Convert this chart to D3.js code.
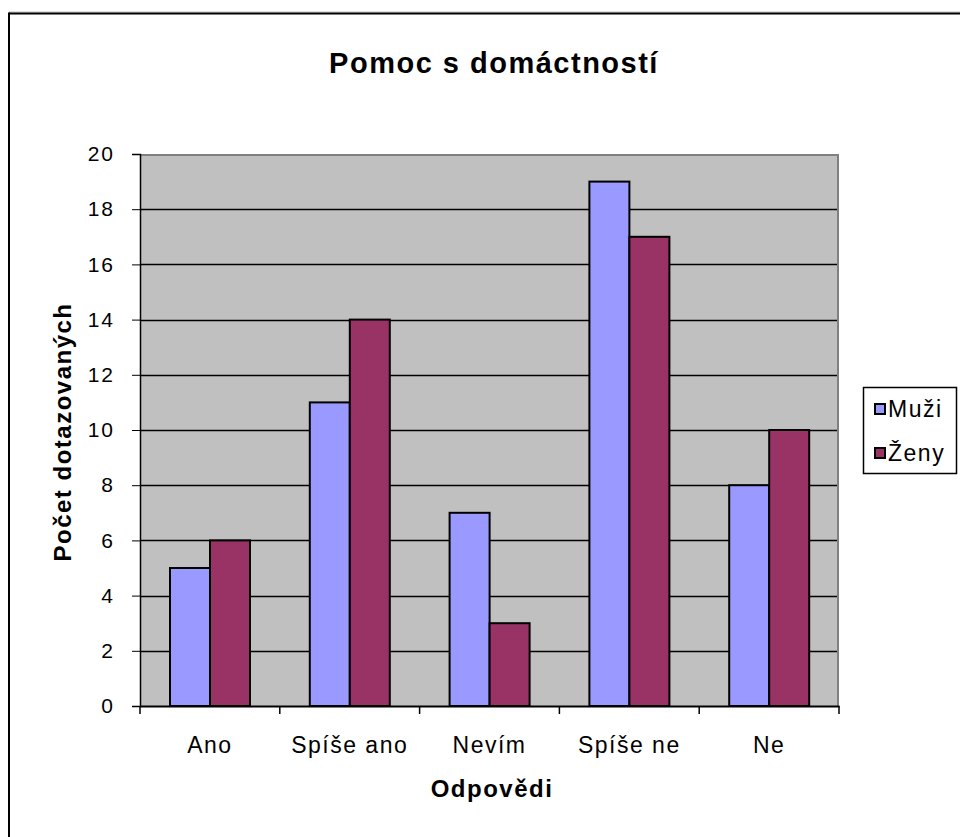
<!DOCTYPE html>
<html lang="cs">
<head>
<meta charset="utf-8">
<title>Pomoc s domáctností</title>
<script src="https://cdn.jsdelivr.net/npm/d3@7"></script>
<style>
  body { margin: 0; background: #fff; }
  text { font-family: Arial, "Liberation Sans", sans-serif; fill: #000; }
</style>
</head>
<body>
<script>
// data
var categories = ["Ano", "Spíše ano", "Nevím", "Spíše ne", "Ne"];
var seriesNames = ["Muži", "Ženy"];
var muzi = [5, 11, 7, 19, 8];
var zeny = [6, 14, 3, 17, 10];
var yTicks = [0, 2, 4, 6, 8, 10, 12, 14, 16, 18, 20];
var colors = ["#9999FF", "#993366"];

var width = 960, height = 837;
var plot = {left: 140, top: 154, right: 839, bottom: 706};

var svg = d3.select("body").append("svg")
    .attr("width", width)
    .attr("height", height);

// chart area border
svg.append("line").attr("x1", 9).attr("x2", width).attr("y1", 12).attr("y2", 12)
    .attr("stroke", "#bbb").attr("stroke-width", 1);
svg.append("line").attr("x1", 9).attr("x2", width).attr("y1", 13.5).attr("y2", 13.5)
    .attr("stroke", "#000").attr("stroke-width", 2);
svg.append("line").attr("x1", 9).attr("x2", 9).attr("y1", 12.5).attr("y2", height)
    .attr("stroke", "#000").attr("stroke-width", 2);

var x0 = d3.scaleBand().domain(categories).range([plot.left, plot.right]).paddingInner(0).paddingOuter(0);
var x1 = d3.scaleBand().domain(seriesNames).range([0, 80]);
var y = d3.scaleLinear().domain([0, 20]).range([plot.bottom, plot.top]);

// plot background
svg.append("rect")
    .attr("x", plot.left).attr("y", plot.top)
    .attr("width", plot.right - plot.left).attr("height", plot.bottom - plot.top)
    .attr("fill", "#C0C0C0");

// gridlines
svg.append("g").selectAll("line")
    .data(yTicks.filter(function(d) { return d > 0 && d < 20; }))
    .enter().append("line")
    .attr("x1", plot.left).attr("x2", plot.right)
    .attr("y1", function(d) { return Math.round(y(d)) + 0.5; })
    .attr("y2", function(d) { return Math.round(y(d)) + 0.5; })
    .attr("stroke", "#000").attr("stroke-width", 1.3);

// top and right border of the plot area
svg.append("path")
    .attr("d", "M" + plot.left + "," + (plot.top + 1) + "H" + (plot.right - 1) + "V" + plot.bottom)
    .attr("fill", "none").attr("stroke", "#808080").attr("stroke-width", 2);

// bars
var bars = [muzi, zeny];
bars.forEach(function(vals, s) {
    svg.append("g").selectAll("rect")
        .data(vals)
        .enter().append("rect")
        .attr("x", function(d, i) { return x0(categories[i]) + 30 + x1(seriesNames[s]); })
        .attr("y", function(d) { return y(d); })
        .attr("width", x1.bandwidth())
        .attr("height", function(d) { return plot.bottom - y(d); })
        .attr("fill", colors[s])
        .attr("stroke", "#000")
        .attr("stroke-width", 2);
});

// y axis
var yAxis = svg.append("g")
    .attr("transform", "translate(" + plot.left + ",0)")
    .call(d3.axisLeft(y).tickValues(yTicks).tickSize(8).tickPadding(17));
yAxis.select(".domain").attr("stroke", "#000").attr("stroke-width", 1.5);
yAxis.selectAll(".tick line").attr("stroke", "#000");
yAxis.selectAll("text")
    .attr("font-size", "21px")
    .attr("letter-spacing", "2px")
    .attr("font-family", "Arial, 'Liberation Sans', sans-serif");

// x axis
var xAxis = svg.append("g")
    .attr("transform", "translate(0," + plot.bottom + ")")
    .call(d3.axisBottom(x0).tickSize(0).tickPadding(31));
xAxis.select(".domain").attr("stroke", "#000").attr("stroke-width", 2);
xAxis.selectAll("text")
    .attr("font-size", "23px")
    .attr("letter-spacing", "1.5px")
    .attr("font-family", "Arial, 'Liberation Sans', sans-serif");
// category separator ticks
xAxis.append("g").selectAll("line")
    .data(categories.concat(["end"]))
    .enter().append("line")
    .attr("x1", function(d, i) { return plot.left + i * x0.step(); })
    .attr("x2", function(d, i) { return plot.left + i * x0.step(); })
    .attr("y1", 0).attr("y2", 8)
    .attr("stroke", "#000").attr("stroke-width", 1.5);

// title
svg.append("text")
    .attr("x", 494).attr("y", 73)
    .attr("text-anchor", "middle")
    .attr("font-size", "29px")
    .attr("font-weight", "bold")
    .attr("letter-spacing", "1.5px")
    .text("Pomoc s domáctností");

// axis titles
svg.append("text")
    .attr("x", 492).attr("y", 797)
    .attr("text-anchor", "middle")
    .attr("font-size", "24px")
    .attr("font-weight", "bold")
    .attr("letter-spacing", "1.5px")
    .text("Odpovědi");

svg.append("text")
    .attr("transform", "translate(71,432) rotate(-90)")
    .attr("text-anchor", "middle")
    .attr("font-size", "24px")
    .attr("font-weight", "bold")
    .attr("letter-spacing", "1.5px")
    .text("Počet dotazovaných");

// legend
var legend = svg.append("g");
legend.append("rect")
    .attr("x", 863.5).attr("y", 387.5)
    .attr("width", 93).attr("height", 86)
    .attr("fill", "#fff").attr("stroke", "#000").attr("stroke-width", 1.5);
var items = legend.selectAll("g.item")
    .data(seriesNames)
    .enter().append("g")
    .attr("class", "item")
    .attr("transform", function(d, i) { return "translate(875," + (409 + i * 44) + ")"; });
items.append("rect")
    .attr("x", 0).attr("y", -5)
    .attr("width", 10).attr("height", 10)
    .attr("fill", function(d, i) { return colors[i]; })
    .attr("stroke", "#000").attr("stroke-width", 2);
items.append("text")
    .attr("x", 13).attr("y", 8)
    .attr("font-size", "23px")
    .attr("letter-spacing", "1.5px")
    .text(function(d) { return d; });
</script>
</body>
</html>
